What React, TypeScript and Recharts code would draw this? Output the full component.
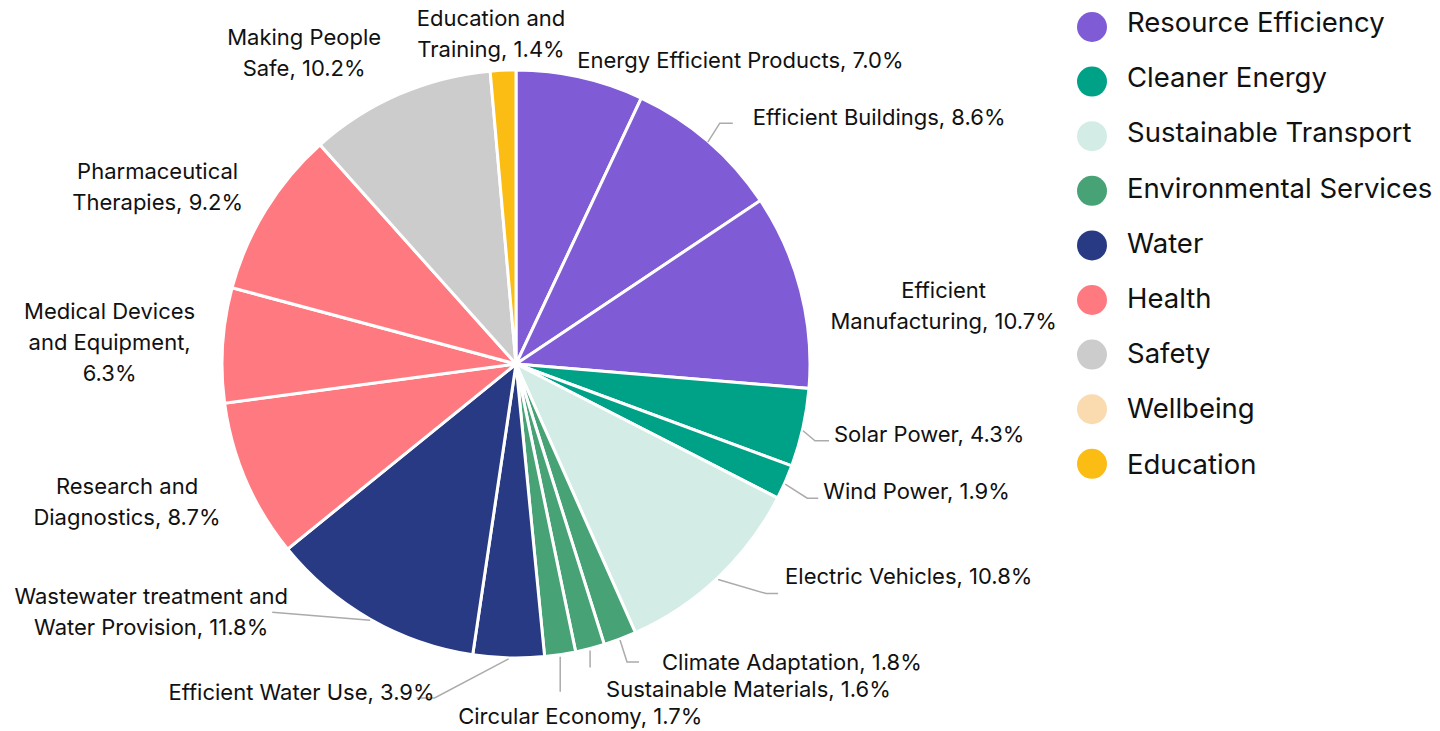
import { PieChart, Pie, Cell, Legend } from "recharts"

// slice names, clockwise from 12 o'clock
const sliceNames = [
  "Energy Efficient Products",
  "Efficient Buildings",
  "Efficient Manufacturing",
  "Solar Power",
  "Wind Power",
  "Electric Vehicles",
  "Climate Adaptation",
  "Sustainable Materials",
  "Circular Economy",
  "Efficient Water Use",
  "Wastewater treatment and Water Provision",
  "Research and Diagnostics",
  "Medical Devices and Equipment",
  "Pharmaceutical Therapies",
  "Making People Safe",
  "Education and Training",
]

const sliceValues = [7.0, 8.6, 10.7, 4.3, 1.9, 10.8, 1.8, 1.6, 1.7, 3.9, 11.8, 8.7, 6.3, 9.2, 10.2, 1.4]

const sliceGroups = [
  "Resource Efficiency",
  "Resource Efficiency",
  "Resource Efficiency",
  "Cleaner Energy",
  "Cleaner Energy",
  "Sustainable Transport",
  "Environmental Services",
  "Environmental Services",
  "Environmental Services",
  "Water",
  "Water",
  "Health",
  "Health",
  "Health",
  "Safety",
  "Education",
]

// label text, "|" = line break, "%v" = value
const labelTexts = [
  "Energy Efficient Products, %v",
  "Efficient Buildings, %v",
  "Efficient|Manufacturing, %v",
  "Solar Power, %v",
  "Wind Power, %v",
  "Electric Vehicles, %v",
  "Climate Adaptation, %v",
  "Sustainable Materials, %v",
  "Circular Economy, %v",
  "Efficient Water Use, %v",
  "Wastewater treatment and|Water Provision, %v",
  "Research and|Diagnostics, %v",
  "Medical Devices|and Equipment,|%v",
  "Pharmaceutical|Therapies, %v",
  "Making People|Safe, %v",
  "Education and|Training, %v",
]

const legendNames = [
  "Resource Efficiency",
  "Cleaner Energy",
  "Sustainable Transport",
  "Environmental Services",
  "Water",
  "Health",
  "Safety",
  "Wellbeing",
  "Education",
]

const groupColors: Record<string, string> = {
  "Resource Efficiency": "#7F5BD6",
  "Cleaner Energy": "#00A287",
  "Sustainable Transport": "#D3EDE6",
  "Environmental Services": "#47A276",
  Water: "#283A83",
  Health: "#FF7A80",
  Safety: "#CCCCCC",
  Wellbeing: "#FADBB0",
  Education: "#FBBD13",
}

// label placement relative to the slice's outer edge point
type Place = { dx: number; dy: number; anchor: "start" | "middle" | "end"; leader?: [number, number][] }
const labelPlaces: Place[] = [
  { dx: -3, dy: -17, anchor: "start" },
  { dx: 45, dy: -24, anchor: "start", leader: [[0, 1], [12, -18], [25, -18]] },
  { dx: 143, dy: 0, anchor: "middle" },
  { dx: 31, dy: 6, anchor: "start", leader: [[0, 3], [12, 13], [26, 13]] },
  { dx: 38, dy: 9, anchor: "start", leader: [[0, 2], [22, 16], [33, 16]] },
  { dx: 67, dy: -2, anchor: "start", leader: [[0, 2], [48, 16], [60, 16]] },
  { dx: 42, dy: 23, anchor: "start", leader: [[0, 1], [7, 23], [19, 23]] },
  { dx: 16, dy: 40, anchor: "start", leader: [[0, 2], [0, 19]] },
  { dx: -102, dy: 61, anchor: "start", leader: [[0, 2], [0, 37]] },
  { dx: -74, dy: 34, anchor: "end", leader: [[0, 1], [-74, 40], [-92, 40]] },
  { dx: -219, dy: -23, anchor: "middle", leader: [[0, 1], [-98, -7]] },
  { dx: -119, dy: 6, anchor: "middle" },
  { dx: -113, dy: -34, anchor: "middle" },
  { dx: -108, dy: -39, anchor: "middle" },
  { dx: -95, dy: -57, anchor: "middle" },
  { dx: -12, dy: -52, anchor: "middle" },
]

const data = sliceNames.map((name, i) => ({ name, value: sliceValues[i], group: sliceGroups[i] }))

const RAD = Math.PI / 180
const FONT = "Inter, sans-serif"

function renderLabel(props: any) {
  const { cx, cy, midAngle, outerRadius, index, value } = props
  const ex = cx + outerRadius * Math.cos(-midAngle * RAD)
  const ey = cy + outerRadius * Math.sin(-midAngle * RAD)
  const place = labelPlaces[index]
  const lines = labelTexts[index].replace("%v", `${value.toFixed(1)}%`).split("|")
  return (
    <g key={`lbl-${index}`}>
      {place.leader && (
        <polyline
          points={place.leader.map(([x, y]) => `${ex + x},${ey + y}`).join(" ")}
          fill="none"
          stroke="#ABABAB"
          strokeWidth={1.5}
        />
      )}
      <text x={ex + place.dx} y={ey + place.dy} textAnchor={place.anchor} fill="#111" fontSize={22} fontFamily={FONT}>
        {lines.map((line, k) => (
          <tspan key={k} x={ex + place.dx} dy={k === 0 ? 8 : 31}>
            {line}
          </tspan>
        ))}
      </text>
    </g>
  )
}

function renderLegend() {
  return (
    <svg width={370} height={490}>
      {legendNames.map((name, i) => (
        <g key={name}>
          <circle cx={22} cy={27 + i * 54.6} r={15} fill={groupColors[name]} />
          <text x={57} y={22 + i * 55.2} dy={10} fontSize={27.5} fontFamily={FONT} fill="#111">
            {name}
          </text>
        </g>
      ))}
    </svg>
  )
}

export default function App() {
  return (
    <div style={{ position: "fixed", left: 0, top: 0, width: 1440, height: 731, background: "#fff" }}>
      <PieChart width={1440} height={731} margin={{ top: 0, right: 0, bottom: 0, left: 0 }}>
        <Pie
          data={data}
          dataKey="value"
          nameKey="name"
          cx={516}
          cy={364}
          outerRadius={294}
          startAngle={90}
          endAngle={-270}
          stroke="#fff"
          strokeWidth={3}
          label={renderLabel}
          labelLine={false}
          isAnimationActive={false}
        >
          {data.map((d, i) => (
            <Cell key={`cell-${i}`} fill={groupColors[d.group]} />
          ))}
        </Pie>
        <Legend
          content={renderLegend}
          wrapperStyle={{ position: "absolute", left: 1070, top: 0, width: 370 }}
        />
      </PieChart>
    </div>
  )
}
